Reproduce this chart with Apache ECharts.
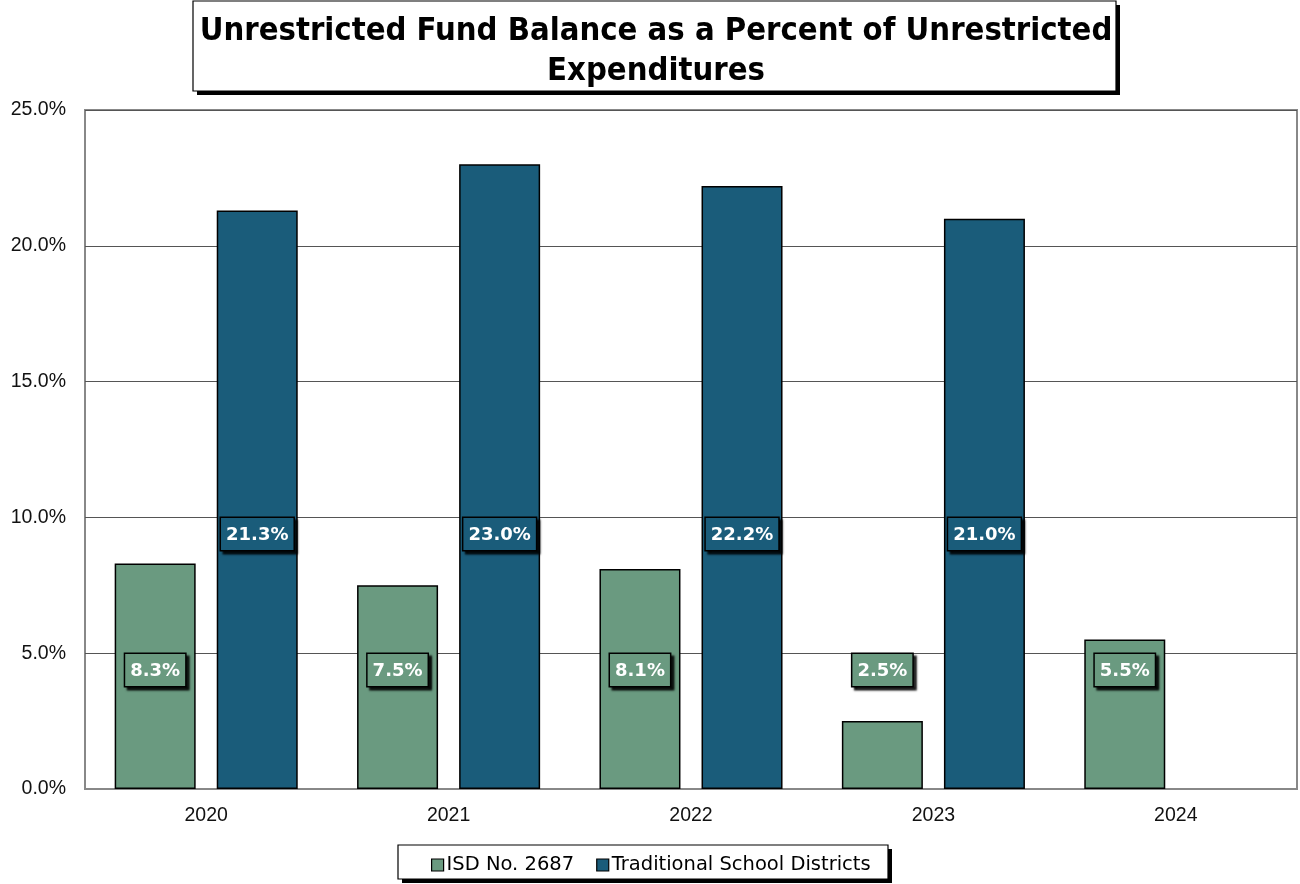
<!DOCTYPE html>
<html>
<head>
<meta charset="utf-8">
<script src="https://cdn.jsdelivr.net/npm/echarts@6/dist/echarts.min.js"></script>
<style>
  html, body { margin: 0; padding: 0; background: #fff; }
  #chart { width: 1300px; height: 884px; }
</style>
</head>
<body>
<div id="chart"></div>
<script>
// data
var years = ['2020', '2021', '2022', '2023', '2024'];
var isdValues = [8.3, 7.5, 8.1, 2.5, 5.5];
var traditionalValues = [21.3, 23.0, 22.2, 21.0, null];
var seriesNames = ['ISD No. 2687', 'Traditional School Districts'];
var titleText = 'Unrestricted Fund Balance as a Percent of Unrestricted\nExpenditures';

var green = '#6a9a80';
var blue = '#1a5c7a';
var labelFont = '"DejaVu Sans", Verdana, sans-serif';
var titleFont = '"DejaVu Sans Condensed", "Liberation Sans", sans-serif';

function labelFor(color, dist) {
  return {
    show: true,
    position: 'insideBottom',
    distance: dist,
    formatter: function (p) { return p.value == null ? '' : p.value.toFixed(1) + '%'; },
    color: '#fff',
    fontFamily: labelFont,
    fontWeight: 'bold',
    fontSize: 18,
    backgroundColor: color,
    borderColor: '#000',
    borderWidth: 1.5,
    padding: [8, 5, 6, 5],
    shadowColor: 'rgba(0,0,0,0.85)',
    shadowOffsetX: 3,
    shadowOffsetY: 3,
    shadowBlur: 2
  };
}

// box with a hard drop shadow drawn as a second rect
function shadowBox(x, y, w, h) {
  return [{
    type: 'rect', z: 0, silent: true,
    shape: { x: x + 4, y: y + 4, width: w, height: h },
    style: { fill: '#000' }
  }, {
    type: 'rect', z: 1, silent: true,
    shape: { x: x, y: y, width: w, height: h },
    style: { fill: '#fff', stroke: '#000', lineWidth: 1.2 }
  }];
}

var chart = echarts.init(document.getElementById('chart'));
chart.setOption({
  animation: false,
  backgroundColor: '#fff',
  graphic: shadowBox(193, 1, 923, 90).concat(shadowBox(398, 845, 490, 34)).concat([{
    type: 'text', z: 2,
    style: {
      text: titleText,
      x: 656, y: 12,
      align: 'center',
      fill: '#000',
      font: 'bold 32.5px ' + titleFont,
      lineHeight: 40
    }
  }]),
  legend: {
    data: seriesNames,
    left: 426,
    top: 850,
    icon: 'rect',
    itemWidth: 12,
    itemHeight: 12,
    itemGap: 22,
    z: 3,
    itemStyle: { borderColor: '#000', borderWidth: 1.2 },
    textStyle: { fontFamily: labelFont, fontSize: 19.5, color: '#000', padding: [0, 0, 0, -2] }
  },
  grid: {
    left: 85, right: 3, top: 110, bottom: 95,
    show: true, borderColor: '#888', borderWidth: 2
  },
  xAxis: {
    type: 'category',
    data: years,
    axisTick: { show: false },
    axisLine: { lineStyle: { color: '#888', width: 2 } },
    axisLabel: {
      color: '#111', fontSize: 19.5, margin: 17,
      fontFamily: '"Liberation Sans", Arial, sans-serif'
    }
  },
  yAxis: {
    type: 'value',
    min: 0, max: 25, interval: 5,
    axisLine: { show: false },
    axisTick: { show: false },
    splitLine: { lineStyle: { color: '#555', width: 1 } },
    axisLabel: {
      color: '#111', fontSize: 19.5, margin: 19,
      fontFamily: '"Liberation Sans", Arial, sans-serif',
      formatter: function (v) { return v.toFixed(1) + '%'; }
    }
  },
  series: [{
    name: seriesNames[0],
    type: 'bar',
    data: isdValues,
    barWidth: 81,
    barGap: '26%',
    itemStyle: { color: green, borderColor: '#000', borderWidth: 1.5 },
    label: labelFor(green, 103)
  }, {
    name: seriesNames[1],
    type: 'bar',
    data: traditionalValues,
    barWidth: 81,
    barGap: '26%',
    itemStyle: { color: blue, borderColor: '#000', borderWidth: 1.5 },
    label: labelFor(blue, 239)
  }]
});
</script>
</body>
</html>
